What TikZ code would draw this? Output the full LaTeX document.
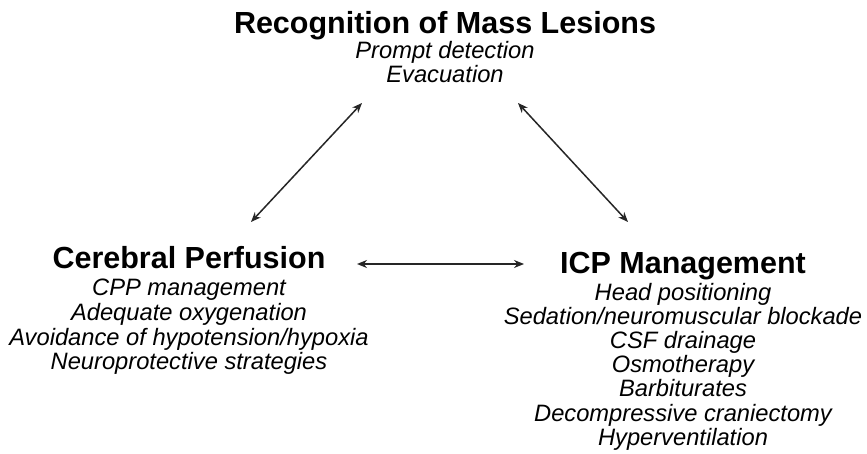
\documentclass[tikz,border=0pt]{standalone}
\usepackage{fontspec}
\setmainfont{Liberation Sans}
\usetikzlibrary{arrows.meta}
\tikzset{
  head/.style={anchor=base, inner sep=0pt, font=\fontsize{30.5}{36}\selectfont\bfseries},
  item/.style={anchor=base, inner sep=0pt, font=\fontsize{23.7}{28}\selectfont\itshape},
  link/.style={line width=1.5pt, draw=black!85, {Stealth[length=10pt,width=8pt]}-{Stealth[length=10pt,width=8pt]}}
}
\begin{document}
\begin{tikzpicture}[x=1pt,y=-1pt]
\path[use as bounding box, fill=white] (0,0) rectangle (867,454);
% top group
\node[head] (mass) at (445,34) {Recognition of Mass Lesions};
\node[item] (m1) at (445,59) {Prompt detection};
\node[item] (m2) at (445,83) {Evacuation};
% left group
\node[head] (perf) at (189,269) {Cerebral Perfusion};
\node[item] (p1) at (189,295.5) {CPP management};
\node[item] (p2) at (189,320.3) {Adequate oxygenation};
\node[item] (p3) at (189,345.1) {Avoidance of hypotension/hypoxia};
\node[item] (p4) at (189,369.9) {Neuroprotective strategies};
% right group
\node[head] (icp) at (683,274) {ICP Management};
\node[item] (i1) at (683,300) {Head positioning};
\node[item] (i2) at (683,324.2) {Sedation/neuromuscular blockade};
\node[item] (i3) at (683,348.4) {CSF drainage};
\node[item] (i4) at (683,372.6) {Osmotherapy};
\node[item] (i5) at (683,396.8) {Barbiturates};
\node[item] (i6) at (683,421) {Decompressive craniectomy};
\node[item] (i7) at (683,445.2) {Hyperventilation};
% connector ends
\coordinate (aL) at (362,103);
\coordinate (aR) at (518,103);
\coordinate (bL) at (251,222);
\coordinate (bR) at (628,222);
\coordinate (cL) at (357,264);
\coordinate (cR) at (524,264);
\draw[link] (bL) -- (aL);
\draw[link] (aR) -- (bR);
\draw[link] (cL) -- (cR);
\end{tikzpicture}
\end{document}
